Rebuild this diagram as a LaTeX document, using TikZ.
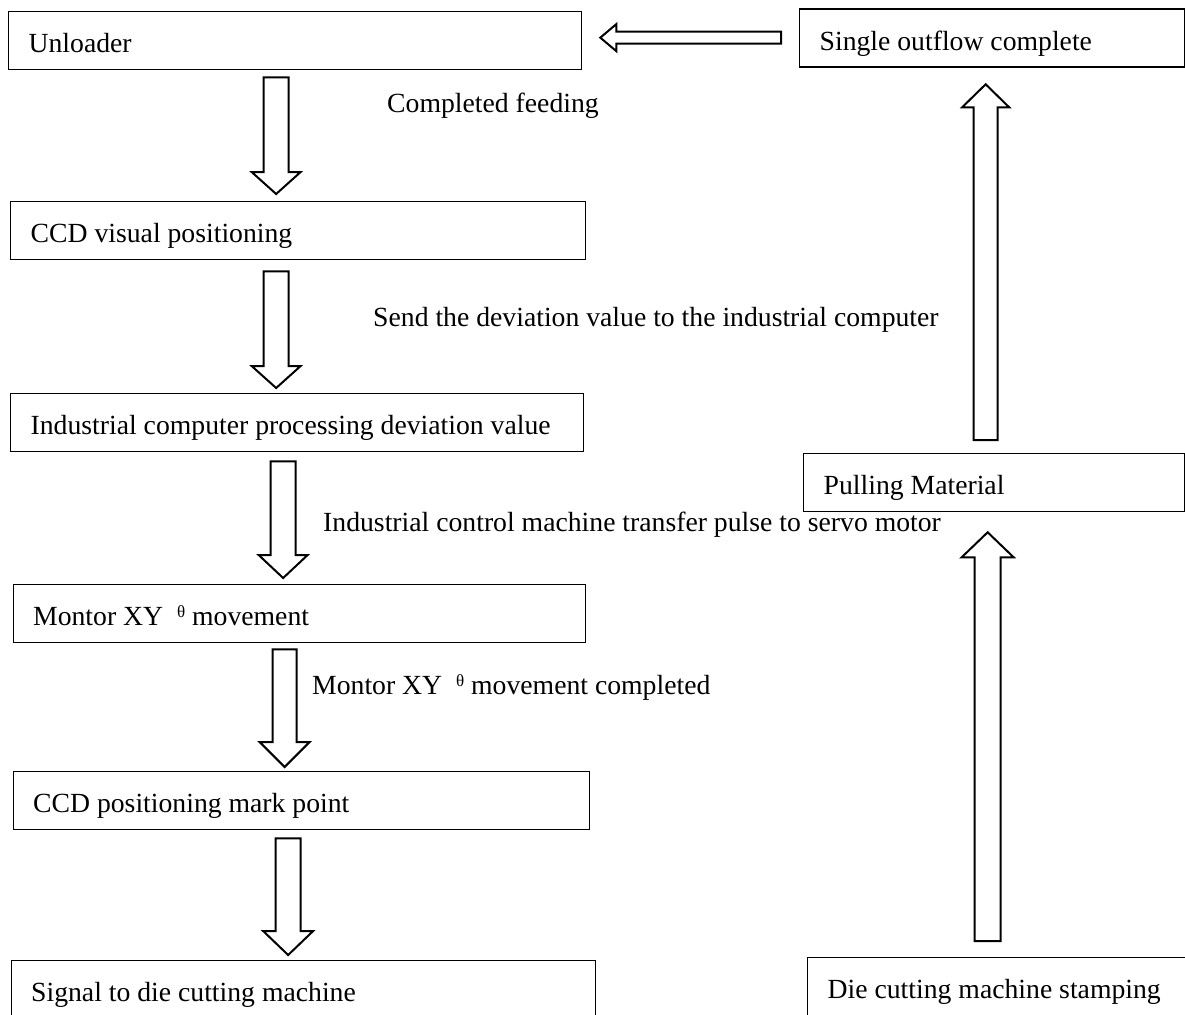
\documentclass[tikz,border=0pt]{standalone}
\usepackage{fontspec}
\setmainfont{Liberation Serif}
\usetikzlibrary{calc}
\tikzset{flow box/.style={draw,line width=1.3pt,anchor=north west,minimum height=58pt,inner xsep=20pt,inner ysep=0pt,text height=24pt,text depth=0pt,align=flush left,text width=#1,font=\fontsize{27.7}{33}\selectfont},
  flow label/.style={anchor=base west,inner sep=0pt,font=\fontsize{27.7}{33}\selectfont},
  hollow arrow/.style={draw,line width=2pt,fill=white,line join=miter},}
\newcommand{\thetamark}{\raisebox{8pt}{\fontsize{17}{17}\selectfont θ}}
% from, to, half shaft, half head, head length
\newcommand{\hollowarrow}[5]{%
  \coordinate (#1-base) at ($(#2)!#5!(#1)$);
  \draw[hollow arrow] ($(#1)!#3!90:(#2)$) -- ($(#1-base)!#3!90:(#2)$) -- ($(#1-base)!#4!90:(#2)$) -- (#2)
    -- ($(#1-base)!#4!-90:(#2)$) -- ($(#1-base)!#3!-90:(#2)$) -- ($(#1)!#3!-90:(#2)$) -- cycle;}

\begin{document}
\begin{tikzpicture}[x=1pt,y=-1pt]
  \useasboundingbox (0,0) rectangle (1185,1014);
  %% Nodes
  \node[flow box=533pt] (unloader) at (8,11) {Unloader};
  \node[flow box=535pt] (ccd) at (10,201) {CCD visual positioning};
  \node[flow box=533pt] (ipc) at (10,393) {Industrial computer processing deviation value};
  \node[flow box=532.5pt] (montor) at (12.5,584) {Montor XY\ \ \thetamark\ movement};
  \node[flow box=536.5pt] (mark) at (12.5,771) {CCD positioning mark point};
  \node[flow box=544.5pt] (signal) at (10.5,960) {Signal to die cutting machine};
  \node[flow box=345pt] (outflow) at (799,8.5) {Single outflow complete};
  \node[flow box=341pt] (pulling) at (803,453) {Pulling Material};
  \node[flow box=360pt] (stamping) at (807,957) {Die cutting machine stamping};
  %% Labels
  \node[flow label] (fed) at (387,113) {Completed feeding};
  \node[flow label] (send) at (373,326) {Send the deviation value to the industrial computer};
  \node[flow label] (pulse) at (323,531) {Industrial control machine transfer pulse to servo motor};
  \node[flow label] (moved) at (312,694) {Montor XY\ \ \thetamark\ movement completed};
  %% Arrow ends
  \coordinate (a1s) at ($(unloader.south)+(-19,7)$);
  \coordinate (a1e) at ($(ccd.north)+(-22,-7)$);
  \coordinate (a2s) at ($(ccd.south)+(-22,11)$);
  \coordinate (a2e) at ($(ipc.north)+(-21,-5)$);
  \coordinate (a3s) at ($(ipc.south)+(-14,9)$);
  \coordinate (a3e) at ($(montor.north)+(-16.25,-6)$);
  \coordinate (a4s) at ($(montor.south)+(-14.75,6)$);
  \coordinate (a4e) at ($(mark.north)+(-16.75,-4)$);
  \coordinate (a5s) at ($(mark.south)+(-13.25,8)$);
  \coordinate (a5e) at ($(signal.north)+(-15.25,-5)$);
  \coordinate (r1s) at ($(stamping.north)+(-20,-16)$);
  \coordinate (r1e) at ($(pulling.south)+(-6.5,20)$);
  \coordinate (r2s) at ($(pulling.north)+(-8.5,-13)$);
  \coordinate (r2e) at ($(outflow.south)+(-6.5,16.5)$);
  \coordinate (ls) at ($(outflow.west)+(-18,-0.5)$);
  \coordinate (le) at ($(unloader.east)+(18,-3)$);
  %% Arrows
  \hollowarrow{a1s}{a1e}{12.5pt}{24.5pt}{22pt}
  \hollowarrow{a2s}{a2e}{12.5pt}{24.5pt}{22pt}
  \hollowarrow{a3s}{a3e}{12.5pt}{24.5pt}{23pt}
  \hollowarrow{a4s}{a4e}{12pt}{25pt}{25pt}
  \hollowarrow{a5s}{a5e}{12.5pt}{25pt}{24pt}
  \hollowarrow{r1s}{r1e}{13pt}{26pt}{25pt}
  \hollowarrow{r2s}{r2e}{12pt}{23.5pt}{23pt}
  \hollowarrow{ls}{le}{6pt}{13.5pt}{16pt}
\end{tikzpicture}
\end{document}
